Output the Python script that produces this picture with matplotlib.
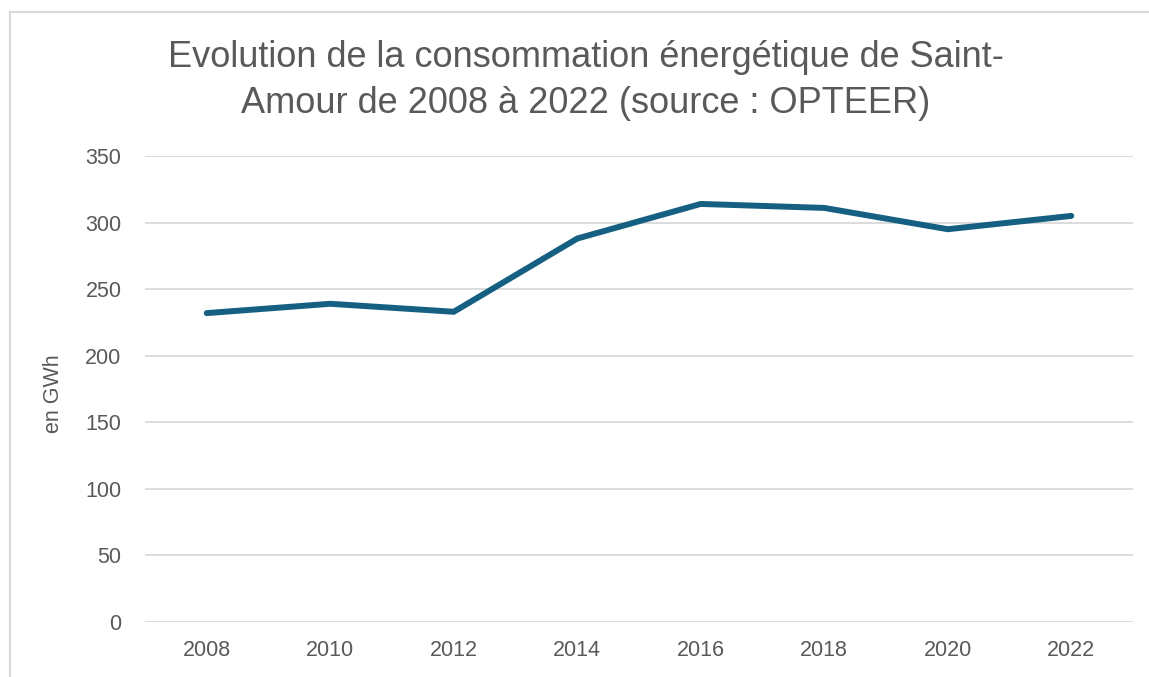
import matplotlib.pyplot as plt
from matplotlib.lines import Line2D

# Data
years = ['2008', '2010', '2012', '2014', '2016', '2018', '2020', '2022']
consommation = [232, 239, 233, 288, 314, 311, 295, 305]
y_ticks = [0, 50, 100, 150, 200, 250, 300, 350]
title_lines = ["Evolution de la consommation énergétique de Saint-",
               "Amour de 2008 à 2022 (source : OPTEER)"]

W, H = 1149, 677
plt.rcParams['font.family'] = ['Liberation Sans', 'DejaVu Sans']

fig = plt.figure(figsize=(W / 100, H / 100), dpi=100)
# plot area in pixel coords: x 145..1133, y 156..622
ax = fig.add_axes([145 / W, 1 - 622 / H, (1133 - 145) / W, (622 - 156) / H])

ax.plot(range(len(years)), consommation, color='#156082', linewidth=4.3,
        solid_capstyle='round', solid_joinstyle='miter', zorder=3)

ax.set_xlim(-0.5, len(years) - 0.5)
ax.set_ylim(0, 350)
ax.set_yticks(y_ticks)
ax.set_xticks(range(len(years)))
ax.set_xticklabels(years)
ax.grid(axis='y', color='#d9d9d9', linewidth=1.3)
ax.set_axisbelow(True)
for s in ax.spines.values():
    s.set_visible(False)
ax.tick_params(length=0, labelsize=15.5, colors='#595959', pad=13)
ax.tick_params(axis='y', pad=17)
ax.set_ylabel('en GWh', fontsize=15.5, color='#595959', labelpad=10)
ax.yaxis.set_label_coords(-0.082, 0.49)

# two-line title, baselines at y=67 and y=113 px
for line, yb in zip(title_lines, [67, 113]):
    fig.text(585.5 / W, 1 - yb / H, line, ha='center', va='baseline',
             fontsize=26, color='#595959')

# chart frame (only left and top edges visible in the screenshot)
fig.add_artist(Line2D([10 / W, 10 / W], [0, 1 - 12 / H], transform=fig.transFigure,
                      color='#d9d9d9', linewidth=1.5))
fig.add_artist(Line2D([10 / W, 1], [1 - 12 / H, 1 - 12 / H], transform=fig.transFigure,
                      color='#d9d9d9', linewidth=1.5))

fig.savefig('out.png', dpi=100)
